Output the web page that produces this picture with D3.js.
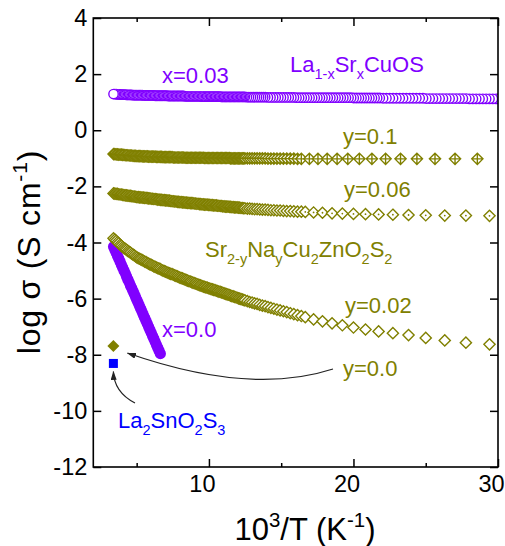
<!DOCTYPE html>
<html>
<head>
<meta charset="utf-8">
<script src="https://cdn.jsdelivr.net/npm/d3@7"></script>
<style>
  html, body { margin: 0; padding: 0; background: #fff; }
  svg { display: block; font-family: "Liberation Sans", Arial, Helvetica, sans-serif; }
</style>
</head>
<body>
<svg id="chart" width="505" height="546"></svg>
<script>
// ---------------- data: log σ (S cm^-1) versus 1000/T (K^-1) ----------------

// closely spaced high-temperature readings, shared by all swept samples
const invT_dense = [
  3.40,3.49,3.58,3.67,3.76,3.85,3.94,4.03,4.12,4.21,4.30,4.39,4.48,4.57,4.66,4.75,4.84,4.93,5.02,5.11,
  5.20,5.29,5.38,5.47,5.56,5.65,5.74,5.83,5.92,6.01,6.10,6.19,6.28,6.37,6.46,6.55,6.64,6.73,6.82,6.91,
  7.00,7.09,7.18,7.27,7.36,7.45,7.54,7.63,7.72,7.81,7.90,7.99,8.08,8.17,8.26,8.35,8.44,8.53,8.62,8.71,
  8.80,8.89,8.98,9.07,9.16,9.25,9.34,9.43,9.52,9.61,9.70,9.79,9.88,9.97,10.06,10.15,10.24,10.33,10.42,10.51,
  10.60,10.69,10.78,10.87,10.96,11.05,11.14,11.23,11.32,11.41,11.50,11.59,11.68,11.77,11.86,11.95,12.04,12.13,12.22,12.31,
  12.40,12.49
];

// La(1-x)Sr(x)CuOS, x = 0.03 (open circles)
const logS_x003_dense = [
  1.29,1.29,1.29,1.28,1.28,1.28,1.27,1.27,1.27,1.27,1.26,1.26,1.26,1.26,1.26,1.25,1.25,1.25,1.25,1.25,
  1.25,1.25,1.25,1.24,1.24,1.24,1.24,1.24,1.24,1.24,1.24,1.24,1.23,1.23,1.23,1.23,1.23,1.23,1.23,1.23,
  1.23,1.23,1.22,1.22,1.22,1.22,1.22,1.22,1.22,1.22,1.22,1.22,1.22,1.22,1.22,1.21,1.21,1.21,1.21,1.21,
  1.21,1.21,1.21,1.21,1.21,1.21,1.21,1.21,1.20,1.20,1.20,1.20,1.20,1.20,1.20,1.20,1.20,1.20,1.20,1.20,
  1.20,1.20,1.20,1.19,1.19,1.19,1.19,1.19,1.19,1.19,1.19,1.19,1.19,1.19,1.19,1.19,1.19,1.19,1.19,1.19,
  1.19,1.19
];
const invT_x003_tail = [
  12.63,12.77,12.91,13.05,13.19,13.33,13.47,13.61,13.75,13.89,
  14.08,14.26,14.44,14.62,14.80,14.98,15.16,15.34,15.52,15.70,15.88,
  16.06,16.24,16.42,16.60,16.78,16.96,17.14,17.32,17.50,17.68,17.86,18.04,18.22,18.40,18.58,18.76,18.94,19.12,19.30,19.48,19.66,19.84,
  20.02,20.20,20.38,20.56,20.74,20.92,21.10,21.28,21.46,21.64,21.82,
  22.05,22.28,22.51,22.74,22.97,23.20,23.43,23.66,23.89,24.12,24.35,24.58,24.81,
  25.04,25.27,25.50,25.73,25.96,26.19,26.42,26.65,26.88,27.11,27.34,27.57,27.80,
  28.03,28.26,28.49,28.72,28.95,29.18,29.41,29.64,29.87,30.10,30.33,30.56
];
const logS_x003_tail = [
  1.18,1.18,1.18,1.18,1.18,1.18,1.18,1.18,1.18,1.18,
  1.17,1.17,1.17,1.17,1.17,1.17,1.17,1.17,1.17,1.17,1.17,
  1.16,1.16,1.16,1.16,1.16,1.16,1.16,1.16,1.16,1.16,1.16,1.16,1.16,1.16,1.16,1.16,1.16,1.16,1.16,1.16,1.16,1.16,
  1.15,1.15,1.15,1.15,1.15,1.15,1.15,1.15,1.15,1.15,1.15,
  1.14,1.14,1.14,1.14,1.14,1.14,1.14,1.14,1.14,1.14,1.14,1.14,1.14,
  1.13,1.13,1.13,1.13,1.13,1.13,1.13,1.13,1.13,1.13,1.13,1.13,1.13,
  1.12,1.12,1.12,1.12,1.12,1.12,1.12,1.12,1.12,1.12,1.12,1.12
];

// LaCuOS, x = 0.0 (filled circles, first 37 points of the dense grid)
const logS_x0 = [
  -4.15,-4.26,-4.36,-4.47,-4.57,-4.68,-4.79,-4.89,-5.00,-5.10,-5.21,-5.32,-5.42,-5.53,-5.63,-5.74,-5.84,-5.95,-6.06,-6.16,
  -6.27,-6.37,-6.48,-6.59,-6.69,-6.80,-6.90,-7.01,-7.12,-7.22,-7.33,-7.43,-7.54,-7.65,-7.75,-7.86,-7.96
];

// Sr(2-y)Na(y)Cu2ZnO2S2 — low-temperature readings (79 K … 35 K and 79 K … 34 K)
const invT_tail_odd = [
  12.658,12.821,12.987,13.158,13.333,13.514,13.699,13.889,14.085,14.286,
  14.493,14.706,14.925,15.152,15.385,15.625,15.873,16.129,16.393,
  16.949,17.544,18.182,18.868,19.608,20.408,21.277,22.222,23.256,24.390,25.641,27.027,28.571
];
const invT_tail_even = [
  12.658,12.821,12.987,13.158,13.333,13.514,13.699,13.889,14.085,14.286,
  14.493,14.706,14.925,15.152,15.385,15.625,15.873,16.129,16.393,
  16.667,17.241,17.857,18.519,19.231,20.000,20.833,21.739,22.727,23.810,25.000,26.316,27.778,29.412
];

// y = 0.1 (diamonds with a cross)
const logS_y01_dense = [
  -0.85,-0.85,-0.86,-0.86,-0.87,-0.87,-0.87,-0.88,-0.88,-0.89,-0.89,-0.89,-0.90,-0.90,-0.90,-0.91,-0.91,-0.91,-0.92,-0.92,
  -0.92,-0.92,-0.93,-0.93,-0.93,-0.93,-0.93,-0.94,-0.94,-0.94,-0.94,-0.94,-0.94,-0.95,-0.95,-0.95,-0.95,-0.95,-0.96,-0.96,
  -0.96,-0.96,-0.96,-0.96,-0.96,-0.96,-0.97,-0.97,-0.97,-0.97,-0.97,-0.97,-0.97,-0.97,-0.97,-0.98,-0.98,-0.98,-0.98,-0.98,
  -0.98,-0.98,-0.98,-0.98,-0.98,-0.98,-0.98,-0.98,-0.98,-0.98,-0.99,-0.99,-0.99,-0.99,-0.99,-0.99,-0.99,-0.99,-0.99,-0.99,
  -0.99,-0.99,-0.99,-0.99,-0.99,-0.99,-0.99,-0.99,-0.99,-0.99,-1.00,-1.00,-1.00,-1.00,-1.00,-1.00,-1.00,-1.00,-1.00,-1.00,
  -1.00,-1.00
];
const logS_y01_tail = [
  -1.00,-1.00,-1.00,-1.00,-1.00,-1.00,-1.00,-1.00,-1.01,-1.01,
  -1.01,-1.01,-1.01,-1.01,-1.01,-1.01,-1.01,-1.02,-1.02,
  -1.02,-1.02,-1.02,-1.02,-1.02,-1.02,-1.02,-1.02,-1.02,-1.02,-1.02,-1.02,-1.02
];

// y = 0.06 (diamonds with a centre dot)
const logS_y006_dense = [
  -2.25,-2.26,-2.27,-2.27,-2.28,-2.29,-2.29,-2.30,-2.31,-2.32,-2.32,-2.33,-2.34,-2.34,-2.35,-2.36,-2.36,-2.37,-2.38,-2.38,
  -2.39,-2.39,-2.40,-2.40,-2.41,-2.41,-2.42,-2.43,-2.43,-2.44,-2.44,-2.45,-2.45,-2.46,-2.47,-2.47,-2.48,-2.48,-2.49,-2.49,
  -2.50,-2.50,-2.51,-2.51,-2.52,-2.53,-2.53,-2.54,-2.54,-2.55,-2.55,-2.56,-2.56,-2.57,-2.57,-2.58,-2.58,-2.59,-2.59,-2.60,
  -2.60,-2.60,-2.61,-2.61,-2.62,-2.62,-2.63,-2.63,-2.64,-2.64,-2.65,-2.65,-2.65,-2.66,-2.66,-2.67,-2.67,-2.68,-2.68,-2.68,
  -2.69,-2.69,-2.70,-2.70,-2.71,-2.71,-2.72,-2.72,-2.72,-2.73,-2.73,-2.74,-2.74,-2.75,-2.75,-2.75,-2.76,-2.76,-2.77,-2.77,
  -2.78,-2.78
];
const logS_y006_tail = [
  -2.79,-2.79,-2.80,-2.81,-2.81,-2.82,-2.83,-2.83,-2.84,-2.85,
  -2.85,-2.86,-2.86,-2.87,-2.88,-2.88,-2.89,-2.90,-2.90,
  -2.91,-2.93,-2.94,-2.96,-2.97,-2.98,-2.99,-3.00,-3.01,-3.02,-3.03,-3.04,-3.04,-3.05
];

// y = 0.02 (open diamonds)
const logS_y002_dense = [
  -3.85,-3.90,-3.94,-3.99,-4.03,-4.08,-4.12,-4.16,-4.20,-4.23,-4.26,-4.30,-4.33,-4.36,-4.40,-4.43,-4.46,-4.50,-4.53,-4.56,
  -4.58,-4.60,-4.63,-4.65,-4.68,-4.70,-4.73,-4.75,-4.78,-4.80,-4.82,-4.85,-4.87,-4.89,-4.91,-4.93,-4.95,-4.98,-5.00,-5.02,
  -5.04,-5.06,-5.08,-5.10,-5.12,-5.13,-5.15,-5.17,-5.19,-5.21,-5.23,-5.25,-5.27,-5.28,-5.30,-5.32,-5.34,-5.36,-5.38,-5.39,
  -5.41,-5.43,-5.45,-5.46,-5.48,-5.50,-5.52,-5.53,-5.55,-5.57,-5.58,-5.60,-5.61,-5.63,-5.64,-5.66,-5.67,-5.69,-5.70,-5.72,
  -5.73,-5.75,-5.76,-5.78,-5.79,-5.81,-5.83,-5.84,-5.86,-5.87,-5.89,-5.91,-5.92,-5.94,-5.95,-5.97,-5.99,-6.00,-6.02,-6.03,
  -6.05,-6.06
];
const logS_y002_tail = [
  -6.09,-6.12,-6.14,-6.17,-6.19,-6.22,-6.25,-6.27,-6.30,-6.33,
  -6.36,-6.39,-6.42,-6.45,-6.48,-6.52,-6.55,-6.59,-6.62,
  -6.66,-6.74,-6.81,-6.88,-6.95,-7.03,-7.10,-7.17,-7.23,-7.30,-7.40,-7.49,-7.57,-7.63
];

// single room-temperature points
const point_y0 = [[3.39, -7.69]];          // Sr2Cu2ZnO2S2, y = 0.0
const point_La2SnO2S3 = [[3.39, -8.31]];   // La2SnO2S3

// axis ticks
const xMajorTicks = [10, 20, 30];
const xMinorTicks = [5, 15, 25];
const yMajorTicks = [-12, -10, -8, -6, -4, -2, 0, 2, 4];

// ---------------- drawing ----------------
const PURPLE = "#8000ff", OLIVE = "#808000", BLUE = "#0000ff";
const svg = d3.select("#chart");

const x = d3.scaleLinear().domain([2, 30]).range([93.3, 498]);
const y = d3.scaleLinear().domain([-12, 4]).range([467, 18]);

const zip = (xs, ys) => ys.map((v, i) => [xs[i], v]);
const series_x003 = zip(invT_dense, logS_x003_dense).concat(zip(invT_x003_tail, logS_x003_tail));
const series_x0   = zip(invT_dense, logS_x0);
const series_y01  = zip(invT_dense, logS_y01_dense).concat(zip(invT_tail_odd, logS_y01_tail));
const series_y006 = zip(invT_dense, logS_y006_dense).concat(zip(invT_tail_even, logS_y006_tail));
const series_y002 = zip(invT_dense, logS_y002_dense).concat(zip(invT_tail_even, logS_y002_tail));

const defs = svg.append("defs");
defs.append("clipPath").attr("id", "plot-clip")
  .append("rect")
  .attr("x", x(2)).attr("y", y(4))
  .attr("width", x(30) - x(2)).attr("height", y(-12) - y(4));
defs.append("marker")
  .attr("id", "arrow").attr("viewBox", "0 0 9 6")
  .attr("refX", 8.5).attr("refY", 3)
  .attr("markerWidth", 9).attr("markerHeight", 6)
  .attr("markerUnits", "userSpaceOnUse").attr("orient", "auto")
  .append("path").attr("d", "M0,0L9,3L0,6Z").attr("fill", "#222");

const plot = svg.append("g").attr("clip-path", "url(#plot-clip)");

// marker shapes
const S = 5.6;
const diamond = `M0,${-S}L${S},0L0,${S}L${-S},0Z`;
const diamondPlus = diamond + `M0,${-S}V${S}M${-S},0H${S}`;
const at = d => `translate(${x(d[0])},${y(d[1])})`;

// x = 0.0: filled circles forming a thick band
plot.append("g").selectAll("circle")
  .data(series_x0).join("circle")
  .attr("cx", d => x(d[0])).attr("cy", d => y(d[1]))
  .attr("r", 5.6).attr("fill", PURPLE);

// y = 0.02: open diamonds (drawn in order of increasing 1000/T)
plot.append("g").selectAll("path")
  .data(series_y002).join("path")
  .attr("transform", at).attr("d", diamond)
  .attr("fill", "#fff").attr("stroke", OLIVE).attr("stroke-width", 1.4);

// y = 0.06: diamonds with a centre dot
const g006 = plot.append("g").selectAll("g")
  .data(series_y006).join("g").attr("transform", at);
g006.append("path").attr("d", diamond)
  .attr("fill", "#fff").attr("stroke", OLIVE).attr("stroke-width", 1.4);
g006.append("circle").attr("r", 0.9).attr("fill", OLIVE);

// y = 0.1: diamonds with a cross
plot.append("g").selectAll("path")
  .data(series_y01).join("path")
  .attr("transform", at).attr("d", diamondPlus)
  .attr("fill", "#fff").attr("stroke", OLIVE).attr("stroke-width", 1.4);

// x = 0.03: open circles (high 1000/T first so the 300 K point sits on top)
plot.append("g").selectAll("circle")
  .data(series_x003.slice().reverse()).join("circle")
  .attr("cx", d => x(d[0])).attr("cy", d => y(d[1]))
  .attr("r", 4.7).attr("fill", "#fff").attr("stroke", PURPLE).attr("stroke-width", 1.4);

// single points
plot.append("g").selectAll("path")
  .data(point_y0).join("path")
  .attr("transform", at)
  .attr("d", "M0,-6L6,0L0,6L-6,0Z").attr("fill", OLIVE);
plot.append("g").selectAll("rect")
  .data(point_La2SnO2S3).join("rect")
  .attr("x", d => x(d[0]) - 4.5).attr("y", d => y(d[1]) - 4.5)
  .attr("width", 9).attr("height", 9).attr("fill", BLUE);

// ---------------- axes ----------------
const tickFont = 23.5;
const noLabel = () => "";

const bottom = svg.append("g").attr("transform", `translate(0,${y(-12)})`)
  .call(d3.axisBottom(x).tickValues(xMajorTicks).tickSize(-8).tickSizeOuter(0)
        .tickPadding(8).tickFormat(d => String(d)));
bottom.selectAll("text").attr("dx", -7);
svg.append("g").attr("transform", `translate(0,${y(-12)})`)
  .call(d3.axisBottom(x).tickValues(xMinorTicks).tickSize(-4).tickSizeOuter(0).tickFormat(noLabel));
svg.append("g").attr("transform", `translate(0,${y(4)})`)
  .call(d3.axisTop(x).tickValues(xMajorTicks).tickSize(-8).tickSizeOuter(0).tickFormat(noLabel));
svg.append("g").attr("transform", `translate(0,${y(4)})`)
  .call(d3.axisTop(x).tickValues(xMinorTicks).tickSize(-4).tickSizeOuter(0).tickFormat(noLabel));

svg.append("g").attr("transform", `translate(${x(2)},0)`)
  .call(d3.axisLeft(y).tickValues(yMajorTicks).tickSize(-8).tickSizeOuter(0)
        .tickPadding(6).tickFormat(d => String(d)));
svg.append("g").attr("transform", `translate(${x(30)},0)`)
  .call(d3.axisRight(y).tickValues(yMajorTicks).tickSize(-8).tickSizeOuter(0).tickFormat(noLabel));

svg.selectAll(".domain").remove();
svg.selectAll(".tick line").attr("stroke", "#000").attr("stroke-width", 1.5);
svg.selectAll(".tick text").attr("font-size", tickFont)
  .attr("font-family", '"Liberation Sans", Arial, sans-serif').attr("fill", "#000");

// frame
svg.append("rect")
  .attr("x", x(2)).attr("y", y(4))
  .attr("width", x(30) - x(2)).attr("height", y(-12) - y(4))
  .attr("fill", "none").attr("stroke", "#000").attr("stroke-width", 1.6);

// ---------------- text helpers ----------------
function richText(parent, px, py, parts, opts) {
  const fs = opts.size, color = opts.color;
  const t = parent.append("text").attr("x", px).attr("y", py)
    .attr("font-size", fs).attr("fill", color)
    .attr("text-anchor", opts.anchor || "start");
  if (opts.transform) t.attr("transform", opts.transform);
  if (opts.spacing) t.attr("letter-spacing", opts.spacing);
  let shift = 0;
  parts.forEach(([str, kind]) => {
    const target = kind === "sub" ? 0.3 * fs : kind === "sup" ? -0.42 * fs : 0;
    t.append("tspan")
      .attr("dy", target - shift)
      .attr("font-size", kind ? fs * 0.66 : fs)
      .text(str);
    shift = target;
  });
  return t;
}

// axis titles
richText(svg, 305, 540, [["10"], ["3", "sup"], ["/T (K"], ["-1", "sup"], [")"]],
  { size: 31, color: "#000", anchor: "middle" });
richText(svg, 0, 0, [["log σ (S cm"], ["-1", "sup"], [")"]],
  { size: 32, color: "#000", anchor: "middle", spacing: 0.8, transform: "translate(40,252) rotate(-90)" });

// series labels
const labelSize = 22;
richText(svg, 162, 83, [["x=0.03"]], { size: labelSize, color: PURPLE });
richText(svg, 290, 72, [["La"], ["1-x", "sub"], ["Sr"], ["x", "sub"], ["CuOS"]], { size: labelSize, color: PURPLE });
richText(svg, 343, 144, [["y=0.1"]], { size: labelSize, color: OLIVE });
richText(svg, 344, 197, [["y=0.06"]], { size: labelSize, color: OLIVE });
richText(svg, 205, 257, [["Sr"], ["2-y", "sub"], ["Na"], ["y", "sub"], ["Cu"], ["2", "sub"], ["ZnO"], ["2", "sub"], ["S"], ["2", "sub"]],
  { size: labelSize, color: OLIVE });
richText(svg, 345, 313, [["y=0.02"]], { size: labelSize, color: OLIVE });
richText(svg, 162, 337, [["x=0.0"]], { size: labelSize, color: PURPLE });
richText(svg, 343, 376, [["y=0.0"]], { size: labelSize, color: OLIVE });
richText(svg, 118, 428, [["La"], ["2", "sub"], ["SnO"], ["2", "sub"], ["S"], ["3", "sub"]], { size: labelSize, color: BLUE });

// pointer arrows from labels to the single points
const p0 = point_y0[0], pL = point_La2SnO2S3[0];
svg.append("path")
  .attr("d", `M333,369Q250,396 ${x(p0[0]) + 14},${y(p0[1]) + 7}`)
  .attr("fill", "none").attr("stroke", "#222").attr("stroke-width", 1.2)
  .attr("marker-end", "url(#arrow)");
svg.append("path")
  .attr("d", `M135,403Q114,392 ${x(pL[0])},${y(pL[1]) + 8}`)
  .attr("fill", "none").attr("stroke", "#222").attr("stroke-width", 1.2)
  .attr("marker-end", "url(#arrow)");
</script>
</body>
</html>
